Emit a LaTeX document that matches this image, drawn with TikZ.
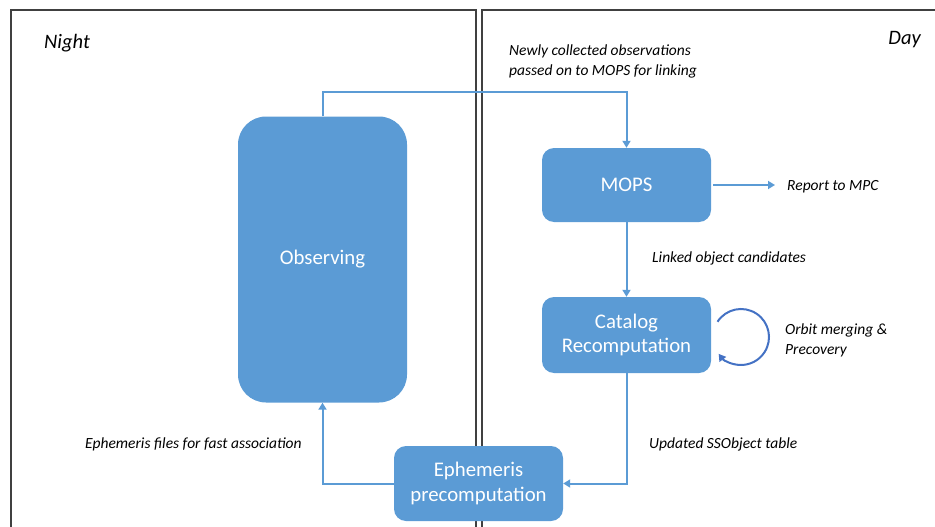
\documentclass[tikz,border=0pt]{standalone}
\usepackage{fontspec}
\setmainfont{Carlito}
\usetikzlibrary{arrows.meta}
\definecolor{boxblue}{HTML}{5B9BD5}
\definecolor{loopblue}{HTML}{4472C4}
\begin{document}
\begin{tikzpicture}[x=1pt,y=-1pt,
  frame/.style={draw=black!75,line width=1.3pt},
  proc/.style={fill=boxblue,draw=none,text=white,font=\fontsize{20.8}{24.5}\selectfont,align=center,inner sep=0pt},
  flow/.style={draw=boxblue,line width=2pt,-{Triangle[length=7pt,width=8pt]}},
  lbl/.style={font=\fontsize{15.5}{20}\selectfont\itshape,align=left,inner sep=0pt,text=black},
  big/.style={font=\fontsize{20.5}{24}\selectfont\itshape,inner sep=0pt,text=black}]
\useasboundingbox (0,0) rectangle (935,527);
% panels
\draw[frame] (11,527) -- (11,10) -- (476,10) -- (476,527);
\draw[frame] (482,527) -- (482,10) -- (935,10);
% nodes
\node[proc,rounded corners=28pt,minimum width=169pt,minimum height=286pt] (obs) at (322.5,259.5) {Observing};
\node[proc,rounded corners=12pt,minimum width=169pt,minimum height=74pt] (mops) at (626.5,185) {MOPS};
\node[proc,rounded corners=12pt,minimum width=169pt,minimum height=76pt] (cat) at (626.5,335) {Catalog\\Recomputation};
\node[proc,rounded corners=12pt,minimum width=169pt,minimum height=75pt] (eph) at (478.5,483.5) {Ephemeris\\precomputation};
% labels
\node[big,anchor=west] (night) at (44,43) {Night};
\node[big,anchor=east] (day) at (921,40) {Day};
\node[lbl,anchor=west] (newly) at (509,61) {Newly collected observations\\passed on to MOPS for linking};
\node[lbl,anchor=west] (mpc) at (787,187) {Report to MPC};
\node[lbl,anchor=west] (linked) at (652,258) {Linked object candidates};
\node[lbl,anchor=west] (orbit) at (785,340) {Orbit merging \&\\Precovery};
\node[lbl,anchor=west] (upd) at (649,444) {Updated SSObject table};
\node[lbl,anchor=west] (ephf) at (85,444) {Ephemeris files for fast association};
% connectors
\coordinate (mpcend) at (775,185);
\draw[flow] (obs.north) -- ++(0,-24) -| (mops.north);
\draw[flow] ([xshift=2pt]mops.east) -- (mpcend);
\draw[flow] (mops.south) -- (cat.north);
\draw[flow] (cat.south) |- (eph.east);
\draw[flow] (eph.west) -| (obs.south);
% loop
\coordinate (lc) at (741,337);
\draw[draw=loopblue,line width=2pt,-{Triangle[length=7pt,width=8pt]}] ([shift={(-147:28)}]lc) arc[start angle=-147,end angle=143,radius=28];
\end{tikzpicture}
\end{document}
